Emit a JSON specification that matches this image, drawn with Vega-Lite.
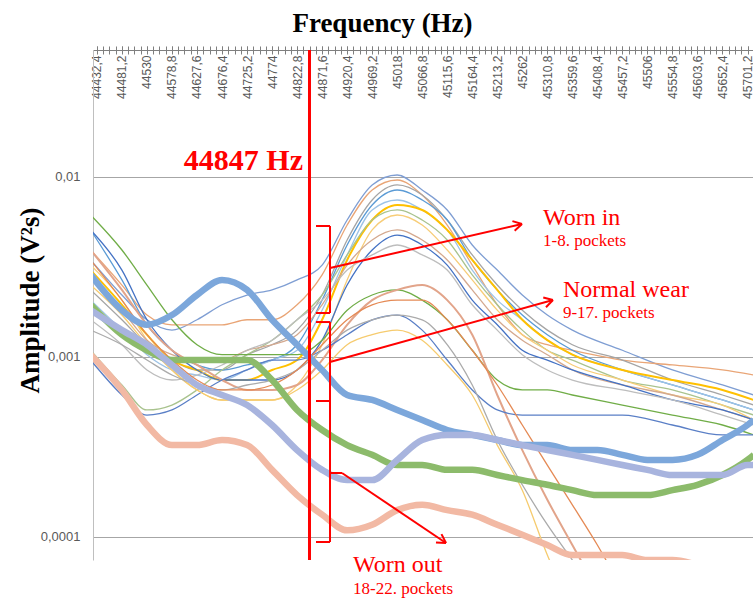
{
"$schema": "https://vega.github.io/schema/vega-lite/v6.json",
"width": 660, "height": 510,
"autosize": {"type": "none"},
"padding": {"left": 93, "top": 50, "right": 0, "bottom": 38},
"background": "white",
"config": {"view": {"stroke": null}},
"data": {"values": [
{"s":"p01","f":44420.2,"a":0.00346},{"s":"p01","f":44481.2,"a":0.00221},{"s":"p01","f":44530,"a":0.00161},{"s":"p01","f":44578.8,"a":0.00141},{"s":"p01","f":44627.6,"a":0.00161},{"s":"p01","f":44676.4,"a":0.00195},{"s":"p01","f":44725.2,"a":0.00221},{"s":"p01","f":44774,"a":0.00236},{"s":"p01","f":44822.8,"a":0.00268},{"s":"p01","f":44871.6,"a":0.00324},{"s":"p01","f":44920.4,"a":0.00577},{"s":"p01","f":44969.2,"a":0.00903},{"s":"p01","f":45018,"a":0.01026},{"s":"p01","f":45066.8,"a":0.00847},{"s":"p01","f":45115.6,"a":0.00656},{"s":"p01","f":45164.4,"a":0.00419},{"s":"p01","f":45213.2,"a":0.00304},{"s":"p01","f":45262,"a":0.00221},{"s":"p01","f":45310.8,"a":0.00171},{"s":"p01","f":45359.6,"a":0.00141},{"s":"p01","f":45457.2,"a":0.00109},{"s":"p01","f":45554.8,"a":0.000847},{"s":"p01","f":45652.4,"a":0.000699},{"s":"p01","f":45713.4,"a":0.000615},
{"s":"p02","f":44420.2,"a":0.00393},{"s":"p02","f":44481.2,"a":0.00251},{"s":"p02","f":44530,"a":0.00171},{"s":"p02","f":44578.8,"a":0.00151},{"s":"p02","f":44627.6,"a":0.00151},{"s":"p02","f":44676.4,"a":0.00151},{"s":"p02","f":44725.2,"a":0.00161},{"s":"p02","f":44774,"a":0.00161},{"s":"p02","f":44822.8,"a":0.00195},{"s":"p02","f":44871.6,"a":0.00286},{"s":"p02","f":44920.4,"a":0.00541},{"s":"p02","f":44969.2,"a":0.00847},{"s":"p02","f":45018,"a":0.00962},{"s":"p02","f":45066.8,"a":0.00794},{"s":"p02","f":45115.6,"a":0.00541},{"s":"p02","f":45164.4,"a":0.00324},{"s":"p02","f":45213.2,"a":0.00195},{"s":"p02","f":45262,"a":0.00133},{"s":"p02","f":45310.8,"a":0.00117},{"s":"p02","f":45359.6,"a":0.00109},{"s":"p02","f":45457.2,"a":0.000962},{"s":"p02","f":45554.8,"a":0.000903},{"s":"p02","f":45652.4,"a":0.000847},{"s":"p02","f":45713.4,"a":0.000794},
{"s":"p03","f":44420.2,"a":0.00236},{"s":"p03","f":44481.2,"a":0.00161},{"s":"p03","f":44530,"a":0.00117},{"s":"p03","f":44578.8,"a":0.000962},{"s":"p03","f":44627.6,"a":0.000847},{"s":"p03","f":44676.4,"a":0.000847},{"s":"p03","f":44725.2,"a":0.00103},{"s":"p03","f":44774,"a":0.00117},{"s":"p03","f":44822.8,"a":0.00141},{"s":"p03","f":44871.6,"a":0.00221},{"s":"p03","f":44920.4,"a":0.00447},{"s":"p03","f":44969.2,"a":0.00745},{"s":"p03","f":45018,"a":0.00903},{"s":"p03","f":45066.8,"a":0.00794},{"s":"p03","f":45115.6,"a":0.00577},{"s":"p03","f":45164.4,"a":0.00369},{"s":"p03","f":45213.2,"a":0.00251},{"s":"p03","f":45262,"a":0.00182},{"s":"p03","f":45310.8,"a":0.00141},{"s":"p03","f":45359.6,"a":0.00117},{"s":"p03","f":45457.2,"a":0.000962},{"s":"p03","f":45554.8,"a":0.000745},{"s":"p03","f":45652.4,"a":0.000615},{"s":"p03","f":45713.4,"a":0.000541},
{"s":"p04","f":44420.2,"a":0.00508},{"s":"p04","f":44481.2,"a":0.00268},{"s":"p04","f":44530,"a":0.00151},{"s":"p04","f":44578.8,"a":0.00109},{"s":"p04","f":44627.6,"a":0.000903},{"s":"p04","f":44676.4,"a":0.000847},{"s":"p04","f":44725.2,"a":0.000903},{"s":"p04","f":44774,"a":0.000962},{"s":"p04","f":44822.8,"a":0.00117},{"s":"p04","f":44871.6,"a":0.00207},{"s":"p04","f":44920.4,"a":0.00419},{"s":"p04","f":44969.2,"a":0.00699},{"s":"p04","f":45018,"a":0.00847},{"s":"p04","f":45066.8,"a":0.00745},{"s":"p04","f":45115.6,"a":0.00577},{"s":"p04","f":45164.4,"a":0.00346},{"s":"p04","f":45213.2,"a":0.00236},{"s":"p04","f":45262,"a":0.00171},{"s":"p04","f":45310.8,"a":0.00133},{"s":"p04","f":45359.6,"a":0.00109},{"s":"p04","f":45457.2,"a":0.000847},{"s":"p04","f":45554.8,"a":0.000699},{"s":"p04","f":45652.4,"a":0.000577},{"s":"p04","f":45713.4,"a":0.000508},
{"s":"p05","f":44420.2,"a":0.00207},{"s":"p05","f":44481.2,"a":0.00141},{"s":"p05","f":44530,"a":0.00103},{"s":"p05","f":44578.8,"a":0.000847},{"s":"p05","f":44627.6,"a":0.000794},{"s":"p05","f":44676.4,"a":0.000745},{"s":"p05","f":44725.2,"a":0.000847},{"s":"p05","f":44774,"a":0.000962},{"s":"p05","f":44822.8,"a":0.00109},{"s":"p05","f":44871.6,"a":0.00182},{"s":"p05","f":44920.4,"a":0.00369},{"s":"p05","f":44969.2,"a":0.00656},{"s":"p05","f":45018,"a":0.00745},{"s":"p05","f":45066.8,"a":0.00656},{"s":"p05","f":45115.6,"a":0.00508},{"s":"p05","f":45164.4,"a":0.00304},{"s":"p05","f":45213.2,"a":0.00207},{"s":"p05","f":45262,"a":0.00161},{"s":"p05","f":45310.8,"a":0.00124},{"s":"p05","f":45359.6,"a":0.00103},{"s":"p05","f":45457.2,"a":0.000847},{"s":"p05","f":45554.8,"a":0.000699},{"s":"p05","f":45652.4,"a":0.000577},{"s":"p05","f":45713.4,"a":0.000508},
{"s":"p06","f":44420.2,"a":0.00304},{"s":"p06","f":44481.2,"a":0.00195},{"s":"p06","f":44530,"a":0.00133},{"s":"p06","f":44578.8,"a":0.000962},{"s":"p06","f":44627.6,"a":0.000847},{"s":"p06","f":44676.4,"a":0.000745},{"s":"p06","f":44725.2,"a":0.000745},{"s":"p06","f":44774,"a":0.000847},{"s":"p06","f":44822.8,"a":0.000962},{"s":"p06","f":44871.6,"a":0.00161},{"s":"p06","f":44920.4,"a":0.00346},{"s":"p06","f":44969.2,"a":0.00577},{"s":"p06","f":45018,"a":0.00699},{"s":"p06","f":45066.8,"a":0.00656},{"s":"p06","f":45115.6,"a":0.00508},{"s":"p06","f":45164.4,"a":0.00346},{"s":"p06","f":45213.2,"a":0.00236},{"s":"p06","f":45262,"a":0.00161},{"s":"p06","f":45310.8,"a":0.00124},{"s":"p06","f":45359.6,"a":0.00103},{"s":"p06","f":45457.2,"a":0.000847},{"s":"p06","f":45554.8,"a":0.000745},{"s":"p06","f":45652.4,"a":0.000656},{"s":"p06","f":45713.4,"a":0.000577},
{"s":"p07","f":44420.2,"a":0.00109},{"s":"p07","f":44481.2,"a":0.000699},{"s":"p07","f":44530,"a":0.000508},{"s":"p07","f":44578.8,"a":0.000541},{"s":"p07","f":44627.6,"a":0.000656},{"s":"p07","f":44676.4,"a":0.000847},{"s":"p07","f":44725.2,"a":0.00103},{"s":"p07","f":44774,"a":0.00124},{"s":"p07","f":44822.8,"a":0.00161},{"s":"p07","f":44871.6,"a":0.00221},{"s":"p07","f":44920.4,"a":0.00369},{"s":"p07","f":44969.2,"a":0.00577},{"s":"p07","f":45018,"a":0.00656},{"s":"p07","f":45066.8,"a":0.00577},{"s":"p07","f":45115.6,"a":0.00447},{"s":"p07","f":45164.4,"a":0.00286},{"s":"p07","f":45213.2,"a":0.00195},{"s":"p07","f":45262,"a":0.00141},{"s":"p07","f":45310.8,"a":0.00109},{"s":"p07","f":45359.6,"a":0.000962},{"s":"p07","f":45457.2,"a":0.000745},{"s":"p07","f":45554.8,"a":0.000656},{"s":"p07","f":45652.4,"a":0.000541},{"s":"p07","f":45713.4,"a":0.000476},
{"s":"p08","f":44420.2,"a":0.00324},{"s":"p08","f":44481.2,"a":0.00207},{"s":"p08","f":44530,"a":0.00124},{"s":"p08","f":44578.8,"a":0.000847},{"s":"p08","f":44627.6,"a":0.000656},{"s":"p08","f":44676.4,"a":0.000577},{"s":"p08","f":44725.2,"a":0.000577},{"s":"p08","f":44774,"a":0.000577},{"s":"p08","f":44822.8,"a":0.000699},{"s":"p08","f":44871.6,"a":0.00117},{"s":"p08","f":44920.4,"a":0.00268},{"s":"p08","f":44969.2,"a":0.00508},{"s":"p08","f":45018,"a":0.00615},{"s":"p08","f":45066.8,"a":0.00541},{"s":"p08","f":45115.6,"a":0.00393},{"s":"p08","f":45164.4,"a":0.00268},{"s":"p08","f":45213.2,"a":0.00182},{"s":"p08","f":45262,"a":0.00133},{"s":"p08","f":45310.8,"a":0.00109},{"s":"p08","f":45359.6,"a":0.000903},{"s":"p08","f":45457.2,"a":0.000745},{"s":"p08","f":45554.8,"a":0.000615},{"s":"p08","f":45652.4,"a":0.000541},{"s":"p08","f":45713.4,"a":0.000447},
{"s":"p09","f":44420.2,"a":0.00286},{"s":"p09","f":44481.2,"a":0.00182},{"s":"p09","f":44530,"a":0.00124},{"s":"p09","f":44578.8,"a":0.00103},{"s":"p09","f":44627.6,"a":0.000962},{"s":"p09","f":44676.4,"a":0.000962},{"s":"p09","f":44725.2,"a":0.00109},{"s":"p09","f":44774,"a":0.00117},{"s":"p09","f":44822.8,"a":0.00133},{"s":"p09","f":44871.6,"a":0.00195},{"s":"p09","f":44920.4,"a":0.00324},{"s":"p09","f":44969.2,"a":0.00447},{"s":"p09","f":45018,"a":0.00508},{"s":"p09","f":45066.8,"a":0.00447},{"s":"p09","f":45115.6,"a":0.00346},{"s":"p09","f":45164.4,"a":0.00236},{"s":"p09","f":45213.2,"a":0.00161},{"s":"p09","f":45262,"a":0.00124},{"s":"p09","f":45310.8,"a":0.00103},{"s":"p09","f":45359.6,"a":0.000847},{"s":"p09","f":45457.2,"a":0.000699},{"s":"p09","f":45554.8,"a":0.000615},{"s":"p09","f":45652.4,"a":0.000508},{"s":"p09","f":45713.4,"a":0.000447},
{"s":"p10","f":44420.2,"a":0.00508},{"s":"p10","f":44481.2,"a":0.00304},{"s":"p10","f":44530,"a":0.00161},{"s":"p10","f":44578.8,"a":0.00109},{"s":"p10","f":44627.6,"a":0.000847},{"s":"p10","f":44676.4,"a":0.000745},{"s":"p10","f":44725.2,"a":0.000745},{"s":"p10","f":44774,"a":0.000745},{"s":"p10","f":44822.8,"a":0.000847},{"s":"p10","f":44871.6,"a":0.00124},{"s":"p10","f":44920.4,"a":0.00251},{"s":"p10","f":44969.2,"a":0.00393},{"s":"p10","f":45018,"a":0.00476},{"s":"p10","f":45066.8,"a":0.00419},{"s":"p10","f":45115.6,"a":0.00324},{"s":"p10","f":45164.4,"a":0.00207},{"s":"p10","f":45213.2,"a":0.00151},{"s":"p10","f":45262,"a":0.00109},{"s":"p10","f":45310.8,"a":0.000962},{"s":"p10","f":45359.6,"a":0.000847},{"s":"p10","f":45457.2,"a":0.000699},{"s":"p10","f":45554.8,"a":0.000577},{"s":"p10","f":45652.4,"a":0.000508},{"s":"p10","f":45713.4,"a":0.000447},
{"s":"p11","f":44420.2,"a":0.00161},{"s":"p11","f":44481.2,"a":0.00117},{"s":"p11","f":44530,"a":0.000847},{"s":"p11","f":44578.8,"a":0.000745},{"s":"p11","f":44627.6,"a":0.000794},{"s":"p11","f":44676.4,"a":0.000903},{"s":"p11","f":44725.2,"a":0.00109},{"s":"p11","f":44774,"a":0.00124},{"s":"p11","f":44822.8,"a":0.00161},{"s":"p11","f":44871.6,"a":0.00207},{"s":"p11","f":44920.4,"a":0.00304},{"s":"p11","f":44969.2,"a":0.00369},{"s":"p11","f":45018,"a":0.00419},{"s":"p11","f":45066.8,"a":0.00369},{"s":"p11","f":45115.6,"a":0.00304},{"s":"p11","f":45164.4,"a":0.00195},{"s":"p11","f":45213.2,"a":0.00141},{"s":"p11","f":45262,"a":0.00103},{"s":"p11","f":45310.8,"a":0.000847},{"s":"p11","f":45359.6,"a":0.000745},{"s":"p11","f":45457.2,"a":0.000656},{"s":"p11","f":45554.8,"a":0.000577},{"s":"p11","f":45652.4,"a":0.000476},{"s":"p11","f":45713.4,"a":0.000419},
{"s":"p12","f":44420.2,"a":0.00615},{"s":"p12","f":44481.2,"a":0.00393},{"s":"p12","f":44530,"a":0.00251},{"s":"p12","f":44578.8,"a":0.00161},{"s":"p12","f":44627.6,"a":0.00117},{"s":"p12","f":44676.4,"a":0.00103},{"s":"p12","f":44725.2,"a":0.00103},{"s":"p12","f":44774,"a":0.00103},{"s":"p12","f":44822.8,"a":0.00103},{"s":"p12","f":44871.6,"a":0.00124},{"s":"p12","f":44920.4,"a":0.00182},{"s":"p12","f":44969.2,"a":0.00221},{"s":"p12","f":45018,"a":0.00236},{"s":"p12","f":45066.8,"a":0.00207},{"s":"p12","f":45115.6,"a":0.00161},{"s":"p12","f":45164.4,"a":0.00109},{"s":"p12","f":45213.2,"a":0.000745},{"s":"p12","f":45262,"a":0.000656},{"s":"p12","f":45310.8,"a":0.000656},{"s":"p12","f":45359.6,"a":0.000615},{"s":"p12","f":45457.2,"a":0.000541},{"s":"p12","f":45554.8,"a":0.000476},{"s":"p12","f":45652.4,"a":0.000419},{"s":"p12","f":45713.4,"a":0.000369},
{"s":"p13","f":44420.2,"a":0.00393},{"s":"p13","f":44481.2,"a":0.00236},{"s":"p13","f":44530,"a":0.00151},{"s":"p13","f":44578.8,"a":0.00109},{"s":"p13","f":44627.6,"a":0.000903},{"s":"p13","f":44676.4,"a":0.000745},{"s":"p13","f":44725.2,"a":0.000656},{"s":"p13","f":44774,"a":0.000656},{"s":"p13","f":44822.8,"a":0.000699},{"s":"p13","f":44871.6,"a":0.000962},{"s":"p13","f":44920.4,"a":0.00151},{"s":"p13","f":44969.2,"a":0.00207},{"s":"p13","f":45018,"a":0.00236},{"s":"p13","f":45066.8,"a":0.00251},{"s":"p13","f":45115.6,"a":0.00207},{"s":"p13","f":45164.4,"a":0.00133},{"s":"p13","f":45213.2,"a":0.000615},{"s":"p13","f":45262,"a":0.000304},{"s":"p13","f":45310.8,"a":0.000161},{"s":"p13","f":45359.6,"a":0.0000903},{"s":"p13","f":45408.4,"a":0.0000508},
{"s":"p14","f":44420.2,"a":0.000962},{"s":"p14","f":44481.2,"a":0.000615},{"s":"p14","f":44530,"a":0.000476},{"s":"p14","f":44578.8,"a":0.000508},{"s":"p14","f":44627.6,"a":0.000615},{"s":"p14","f":44676.4,"a":0.000745},{"s":"p14","f":44725.2,"a":0.000847},{"s":"p14","f":44774,"a":0.000962},{"s":"p14","f":44822.8,"a":0.000962},{"s":"p14","f":44871.6,"a":0.00109},{"s":"p14","f":44920.4,"a":0.00133},{"s":"p14","f":44969.2,"a":0.00161},{"s":"p14","f":45018,"a":0.00171},{"s":"p14","f":45066.8,"a":0.00141},{"s":"p14","f":45115.6,"a":0.000962},{"s":"p14","f":45164.4,"a":0.000656},{"s":"p14","f":45213.2,"a":0.000508},{"s":"p14","f":45262,"a":0.000476},{"s":"p14","f":45310.8,"a":0.000476},{"s":"p14","f":45359.6,"a":0.000476},{"s":"p14","f":45457.2,"a":0.000476},{"s":"p14","f":45554.8,"a":0.000419},{"s":"p14","f":45652.4,"a":0.000369},{"s":"p14","f":45713.4,"a":0.000369},
{"s":"p15","f":44420.2,"a":0.00251},{"s":"p15","f":44481.2,"a":0.00171},{"s":"p15","f":44530,"a":0.00117},{"s":"p15","f":44578.8,"a":0.000847},{"s":"p15","f":44627.6,"a":0.000656},{"s":"p15","f":44676.4,"a":0.000577},{"s":"p15","f":44725.2,"a":0.000577},{"s":"p15","f":44774,"a":0.000577},{"s":"p15","f":44822.8,"a":0.000656},{"s":"p15","f":44871.6,"a":0.000847},{"s":"p15","f":44920.4,"a":0.00117},{"s":"p15","f":44969.2,"a":0.00133},{"s":"p15","f":45018,"a":0.00141},{"s":"p15","f":45066.8,"a":0.00124},{"s":"p15","f":45115.6,"a":0.000903},{"s":"p15","f":45164.4,"a":0.000615},{"s":"p15","f":45213.2,"a":0.000324},{"s":"p15","f":45262,"a":0.000182},{"s":"p15","f":45310.8,"a":0.0000794},{"s":"p15","f":45359.6,"a":0.0000393},
{"s":"p16","f":44420.2,"a":0.00141},{"s":"p16","f":44481.2,"a":0.00117},{"s":"p16","f":44530,"a":0.000962},{"s":"p16","f":44578.8,"a":0.000794},{"s":"p16","f":44627.6,"a":0.000699},{"s":"p16","f":44676.4,"a":0.000656},{"s":"p16","f":44725.2,"a":0.000699},{"s":"p16","f":44774,"a":0.000745},{"s":"p16","f":44822.8,"a":0.000847},{"s":"p16","f":44871.6,"a":0.00109},{"s":"p16","f":44920.4,"a":0.00141},{"s":"p16","f":44969.2,"a":0.00161},{"s":"p16","f":45018,"a":0.00171},{"s":"p16","f":45066.8,"a":0.00161},{"s":"p16","f":45115.6,"a":0.00117},{"s":"p16","f":45164.4,"a":0.000699},{"s":"p16","f":45213.2,"a":0.000346},{"s":"p16","f":45262,"a":0.000195},{"s":"p16","f":45310.8,"a":0.000117},{"s":"p16","f":45359.6,"a":0.0000745},{"s":"p16","f":45408.4,"a":0.0000476},
{"s":"p17","f":44420.2,"a":0.00346},{"s":"p17","f":44481.2,"a":0.00207},{"s":"p17","f":44530,"a":0.00133},{"s":"p17","f":44578.8,"a":0.000962},{"s":"p17","f":44627.6,"a":0.000745},{"s":"p17","f":44676.4,"a":0.000656},{"s":"p17","f":44725.2,"a":0.000656},{"s":"p17","f":44774,"a":0.000699},{"s":"p17","f":44822.8,"a":0.000847},{"s":"p17","f":44871.6,"a":0.00117},{"s":"p17","f":44920.4,"a":0.00161},{"s":"p17","f":44969.2,"a":0.00195},{"s":"p17","f":45018,"a":0.00207},{"s":"p17","f":45066.8,"a":0.00207},{"s":"p17","f":45115.6,"a":0.00161},{"s":"p17","f":45164.4,"a":0.00109},{"s":"p17","f":45213.2,"a":0.000699},{"s":"p17","f":45262,"a":0.000419},{"s":"p17","f":45310.8,"a":0.000251},{"s":"p17","f":45359.6,"a":0.000151},{"s":"p17","f":45408.4,"a":0.0000903},{"s":"p17","f":45457.2,"a":0.0000508},
{"s":"p18","f":44420.2,"a":0.00286},{"s":"p18","f":44481.2,"a":0.00182},{"s":"p18","f":44530,"a":0.00151},{"s":"p18","f":44578.8,"a":0.00171},{"s":"p18","f":44627.6,"a":0.00221},{"s":"p18","f":44676.4,"a":0.00268},{"s":"p18","f":44725.2,"a":0.00236},{"s":"p18","f":44774,"a":0.00161},{"s":"p18","f":44822.8,"a":0.00117},{"s":"p18","f":44871.6,"a":0.000847},{"s":"p18","f":44920.4,"a":0.000615},{"s":"p18","f":44969.2,"a":0.000577},{"s":"p18","f":45018,"a":0.000508},{"s":"p18","f":45066.8,"a":0.000447},{"s":"p18","f":45115.6,"a":0.000393},{"s":"p18","f":45164.4,"a":0.000369},{"s":"p18","f":45213.2,"a":0.000346},{"s":"p18","f":45262,"a":0.000324},{"s":"p18","f":45310.8,"a":0.000324},{"s":"p18","f":45359.6,"a":0.000304},{"s":"p18","f":45408.4,"a":0.000304},{"s":"p18","f":45457.2,"a":0.000286},{"s":"p18","f":45506,"a":0.000268},{"s":"p18","f":45554.8,"a":0.000268},{"s":"p18","f":45603.6,"a":0.000286},{"s":"p18","f":45652.4,"a":0.000346},{"s":"p18","f":45701.2,"a":0.000419},{"s":"p18","f":45713.4,"a":0.000447},
{"s":"p19","f":44420.2,"a":0.00195},{"s":"p19","f":44481.2,"a":0.00133},{"s":"p19","f":44530,"a":0.00109},{"s":"p19","f":44578.8,"a":0.000962},{"s":"p19","f":44627.6,"a":0.000962},{"s":"p19","f":44676.4,"a":0.000962},{"s":"p19","f":44725.2,"a":0.000962},{"s":"p19","f":44774,"a":0.000745},{"s":"p19","f":44822.8,"a":0.000508},{"s":"p19","f":44871.6,"a":0.000393},{"s":"p19","f":44920.4,"a":0.000324},{"s":"p19","f":44969.2,"a":0.000286},{"s":"p19","f":45018,"a":0.000251},{"s":"p19","f":45066.8,"a":0.000251},{"s":"p19","f":45115.6,"a":0.000236},{"s":"p19","f":45164.4,"a":0.000236},{"s":"p19","f":45213.2,"a":0.000221},{"s":"p19","f":45262,"a":0.000207},{"s":"p19","f":45310.8,"a":0.000195},{"s":"p19","f":45359.6,"a":0.000182},{"s":"p19","f":45408.4,"a":0.000171},{"s":"p19","f":45457.2,"a":0.000171},{"s":"p19","f":45506,"a":0.000171},{"s":"p19","f":45554.8,"a":0.000182},{"s":"p19","f":45603.6,"a":0.000195},{"s":"p19","f":45652.4,"a":0.000221},{"s":"p19","f":45701.2,"a":0.000268},{"s":"p19","f":45713.4,"a":0.000286},
{"s":"p20","f":44420.2,"a":0.00182},{"s":"p20","f":44481.2,"a":0.00141},{"s":"p20","f":44530,"a":0.00117},{"s":"p20","f":44578.8,"a":0.000903},{"s":"p20","f":44627.6,"a":0.000699},{"s":"p20","f":44676.4,"a":0.000615},{"s":"p20","f":44725.2,"a":0.000541},{"s":"p20","f":44774,"a":0.000419},{"s":"p20","f":44822.8,"a":0.000304},{"s":"p20","f":44871.6,"a":0.000236},{"s":"p20","f":44920.4,"a":0.000207},{"s":"p20","f":44969.2,"a":0.000207},{"s":"p20","f":45018,"a":0.000268},{"s":"p20","f":45066.8,"a":0.000346},{"s":"p20","f":45115.6,"a":0.000369},{"s":"p20","f":45164.4,"a":0.000369},{"s":"p20","f":45213.2,"a":0.000346},{"s":"p20","f":45262,"a":0.000324},{"s":"p20","f":45310.8,"a":0.000304},{"s":"p20","f":45359.6,"a":0.000286},{"s":"p20","f":45408.4,"a":0.000268},{"s":"p20","f":45457.2,"a":0.000251},{"s":"p20","f":45506,"a":0.000236},{"s":"p20","f":45554.8,"a":0.000221},{"s":"p20","f":45603.6,"a":0.000221},{"s":"p20","f":45652.4,"a":0.000221},{"s":"p20","f":45701.2,"a":0.000251},{"s":"p20","f":45713.4,"a":0.000251},
{"s":"p21","f":44420.2,"a":0.00103},{"s":"p21","f":44481.2,"a":0.000656},{"s":"p21","f":44530,"a":0.000419},{"s":"p21","f":44578.8,"a":0.000324},{"s":"p21","f":44627.6,"a":0.000324},{"s":"p21","f":44676.4,"a":0.000346},{"s":"p21","f":44725.2,"a":0.000324},{"s":"p21","f":44774,"a":0.000236},{"s":"p21","f":44822.8,"a":0.000171},{"s":"p21","f":44871.6,"a":0.000133},{"s":"p21","f":44920.4,"a":0.000109},{"s":"p21","f":44969.2,"a":0.000117},{"s":"p21","f":45018,"a":0.000141},{"s":"p21","f":45066.8,"a":0.000151},{"s":"p21","f":45115.6,"a":0.000141},{"s":"p21","f":45164.4,"a":0.000133},{"s":"p21","f":45213.2,"a":0.000117},{"s":"p21","f":45262,"a":0.000103},{"s":"p21","f":45310.8,"a":0.0000903},{"s":"p21","f":45359.6,"a":0.0000794},{"s":"p21","f":45408.4,"a":0.0000794},{"s":"p21","f":45457.2,"a":0.0000794},{"s":"p21","f":45506,"a":0.0000745},{"s":"p21","f":45554.8,"a":0.0000745},{"s":"p21","f":45603.6,"a":0.0000699},{"s":"p21","f":45652.4,"a":0.0000615},{"s":"p21","f":45701.2,"a":0.0000508},{"s":"p21","f":45713.4,"a":0.0000476}
]},
"resolve": {"axis": {"x": "independent"}},
"layer": [
{
"transform": [{"filter": "datum.s < 'p18'"}],
"mark": {"type": "line", "interpolate": "monotone", "clip": true},
"encoding": {
"x": {"field": "f", "type": "quantitative",
 "scale": {"domain": [44424.8, 45711.9], "nice": false, "zero": false},
 "axis": {
  "orient": "top",
  "values": [44432.4,44481.2,44530,44578.8,44627.6,44676.4,44725.2,44774,44822.8,44871.6,44920.4,44969.2,45018,45066.8,45115.6,45164.4,45213.2,45262,45310.8,45359.6,45408.4,45457.2,45506,45554.8,45603.6,45652.4,45701.2],
  "labelExpr": "replace(toString(datum.value),'.',',')",
  "labelAngle": -90, "labelAlign": "right", "labelBaseline": "middle",
  "labelPadding": -9, "tickSize": 4, "tickColor": "#7F7F7F", "domainColor": "#7F7F7F",
  "labelFont": "Liberation Sans", "labelFontSize": 12, "labelColor": "#595959",
  "labelOverlap": false, "labelBound": false, "labelFlush": false, "grid": false,
  "title": "Frequency (Hz)", "titleFont": "Liberation Serif", "titleFontSize": 27, "titleFontWeight": "bold", "titleColor": "#000000",
  "titleX": 289, "titleY": -19, "titleAlign": "center", "titleBaseline": "alphabetic", "titleAngle": 0
 }},
"y": {"field": "a", "type": "quantitative",
 "scale": {"type": "log", "domain": [0.00007451, 0.05076], "nice": false},
 "axis": {
  "values": [0.0001, 0.001, 0.01],
  "labelExpr": "replace(toString(datum.value),'.',',')",
  "ticks": false, "labelPadding": 13, "labelFont": "Liberation Sans", "labelFontSize": 13, "labelColor": "#595959",
  "domainColor": "#BFBFBF", "grid": true, "gridColor": "#A6A6A6",
  "title": "Amplitude (V²s)", "titleFont": "Liberation Serif", "titleFontSize": 27, "titleFontWeight": "bold", "titleColor": "#000000",
  "titleAngle": -90, "titleX": -63, "titleY": 250, "titleAlign": "center", "titleBaseline": "middle"
 }},
"color": {"field": "s", "type": "nominal", "legend": null,
 "scale": {"domain": ["p01","p02","p03","p04","p05","p06","p07","p08","p09","p10","p11","p12","p13","p14","p15","p16","p17","p18","p19","p20","p21"],
  "range": ["#7F9ED3","#E9A576","#A5A5A5","#5B9BD5","#9DC3E6","#FFC000","#A9C38E","#F7CD78","#D4A98F","#4472C4","#BDBDBD","#70AD47","#E2A48A","#5A7FC6","#F6CB6E","#ABABAB","#E58A55","#7CA7DB","#8CBB6B","#A8B4DE","#F2B9A4"]}},
"strokeWidth": {"condition": {"test": "datum.s == 'p06' || datum.s == 'p13'", "value": 2}, "value": 1.3}
}
},
{
"transform": [{"filter": "datum.s >= 'p18'"}],
"mark": {"type": "line", "interpolate": "monotone", "clip": true, "strokeWidth": 6.5},
"encoding": {
"x": {"field": "f", "type": "quantitative",
 "axis": {"orient": "top", "title": null, "labels": false, "domain": false, "grid": false, "tickSize": -4, "tickColor": "#7F7F7F",
  "values": [44432.4,44444.6,44456.8,44469,44481.2,44493.4,44505.6,44517.8,44530,44542.2,44554.4,44566.6,44578.8,44591,44603.2,44615.4,44627.6,44639.8,44652,44664.2,44676.4,44688.6,44700.8,44713,44725.2,44737.4,44749.6,44761.8,44774,44786.2,44798.4,44810.6,44822.8,44835,44847.2,44859.4,44871.6,44883.8,44896,44908.2,44920.4,44932.6,44944.8,44957,44969.2,44981.4,44993.6,45005.8,45018,45030.2,45042.4,45054.6,45066.8,45079,45091.2,45103.4,45115.6,45127.8,45140,45152.2,45164.4,45176.6,45188.8,45201,45213.2,45225.4,45237.6,45249.8,45262,45274.2,45286.4,45298.6,45310.8,45323,45335.2,45347.4,45359.6,45371.8,45384,45396.2,45408.4,45420.6,45432.8,45445,45457.2,45469.4,45481.6,45493.8,45506,45518.2,45530.4,45542.6,45554.8,45567,45579.2,45591.4,45603.6,45615.8,45628,45640.2,45652.4,45664.6,45676.8,45689,45701.2]}},
"y": {"field": "a", "type": "quantitative"},
"color": {"field": "s", "type": "nominal", "legend": null}
}
},
{
"data": {"values": [{"f": 44847}]},
"mark": {"type": "rule", "color": "#FF0000", "strokeWidth": 3},
"encoding": {"x": {"field": "f", "type": "quantitative",
 "axis": {"orient": "top", "title": null, "labels": false, "domain": false, "grid": false, "tickSize": 4, "tickColor": "#7F7F7F",
  "values": [44432.4,44444.6,44456.8,44469,44481.2,44493.4,44505.6,44517.8,44530,44542.2,44554.4,44566.6,44578.8,44591,44603.2,44615.4,44627.6,44639.8,44652,44664.2,44676.4,44688.6,44700.8,44713,44725.2,44737.4,44749.6,44761.8,44774,44786.2,44798.4,44810.6,44822.8,44835,44847.2,44859.4,44871.6,44883.8,44896,44908.2,44920.4,44932.6,44944.8,44957,44969.2,44981.4,44993.6,45005.8,45018,45030.2,45042.4,45054.6,45066.8,45079,45091.2,45103.4,45115.6,45127.8,45140,45152.2,45164.4,45176.6,45188.8,45201,45213.2,45225.4,45237.6,45249.8,45262,45274.2,45286.4,45298.6,45310.8,45323,45335.2,45347.4,45359.6,45371.8,45384,45396.2,45408.4,45420.6,45432.8,45445,45457.2,45469.4,45481.6,45493.8,45506,45518.2,45530.4,45542.6,45554.8,45567,45579.2,45591.4,45603.6,45615.8,45628,45640.2,45652.4,45664.6,45676.8,45689,45701.2]}}}
},
{
"data": {"values": [
{"f":44859.7,"a":0.005343,"f2":44887.0,"a2":0.005343},
{"f":44887.0,"a":0.005343,"f2":44887.0,"a2":0.001755},
{"f":44859.7,"a":0.001755,"f2":44887.0,"a2":0.001755},
{"f":44859.7,"a":0.001564,"f2":44887.0,"a2":0.001564},
{"f":44887.0,"a":0.001564,"f2":44887.0,"a2":0.0000938},
{"f":44859.7,"a":0.0005695,"f2":44887.0,"a2":0.0005695},
{"f":44859.7,"a":0.0000938,"f2":44887.0,"a2":0.0000938},
{"f":44887.0,"a":0.003122,"f2":45261.4,"a2":0.005482},
{"f":45242.7,"a":0.005689,"f2":45261.4,"a2":0.005482},
{"f":45247.1,"a":0.005024,"f2":45261.4,"a2":0.005482},
{"f":44887.0,"a":0.000938,"f2":45321.8,"a2":0.002073},
{"f":45302.9,"a":0.002141,"f2":45321.8,"a2":0.002073},
{"f":45308.2,"a":0.001891,"f2":45321.8,"a2":0.002073},
{"f":44887.0,"a":0.0002268,"f2":44910.4,"a2":0.0002268},
{"f":44910.4,"a":0.0002268,"f2":45113.2,"a2":0.00009261},
{"f":45104.4,"a":0.0001038,"f2":45113.2,"a2":0.00009261},
{"f":45093.7,"a":0.00009333,"f2":45113.2,"a2":0.00009261}
]},
"mark": {"type": "rule", "color": "#FF0000", "strokeWidth": 2},
"encoding": {
 "x": {"field": "f", "type": "quantitative", "axis": null},
 "y": {"field": "a", "type": "quantitative"},
 "x2": {"field": "f2"},
 "y2": {"field": "a2"}
}
},
{
"data": {"values": [{"t": "44847 Hz", "f": 44834.3, "a": 0.010936}]},
"mark": {"type": "text", "align": "right", "baseline": "alphabetic", "font": "Liberation Serif", "fontSize": 30, "fontWeight": "bold", "color": "#FF0000"},
"encoding": {"x": {"field": "f", "type": "quantitative", "axis": null}, "y": {"field": "a", "type": "quantitative"}, "text": {"field": "t"}}
},
{
"data": {"values": [
 {"t": "Worn in", "f": 45302.3, "a": 0.005412},
 {"t": "Normal wear", "f": 45341.3, "a": 0.002154},
 {"t": "Worn out", "f": 44931.8, "a": 0.00006391}
]},
"mark": {"type": "text", "align": "left", "baseline": "alphabetic", "font": "Liberation Serif", "fontSize": 24, "color": "#FF0000"},
"encoding": {"x": {"field": "f", "type": "quantitative", "axis": null}, "y": {"field": "a", "type": "quantitative"}, "text": {"field": "t"}}
},
{
"data": {"values": [
 {"t": "1-8. pockets", "f": 45302.3, "a": 0.004137},
 {"t": "9-17. pockets", "f": 45341.3, "a": 0.001647},
 {"t": "18-22. pockets", "f": 44931.8, "a": 0.00004825}
]},
"mark": {"type": "text", "align": "left", "baseline": "alphabetic", "font": "Liberation Serif", "fontSize": 17, "color": "#FF0000"},
"encoding": {"x": {"field": "f", "type": "quantitative", "axis": null}, "y": {"field": "a", "type": "quantitative"}, "text": {"field": "t"}}
}
]
}
